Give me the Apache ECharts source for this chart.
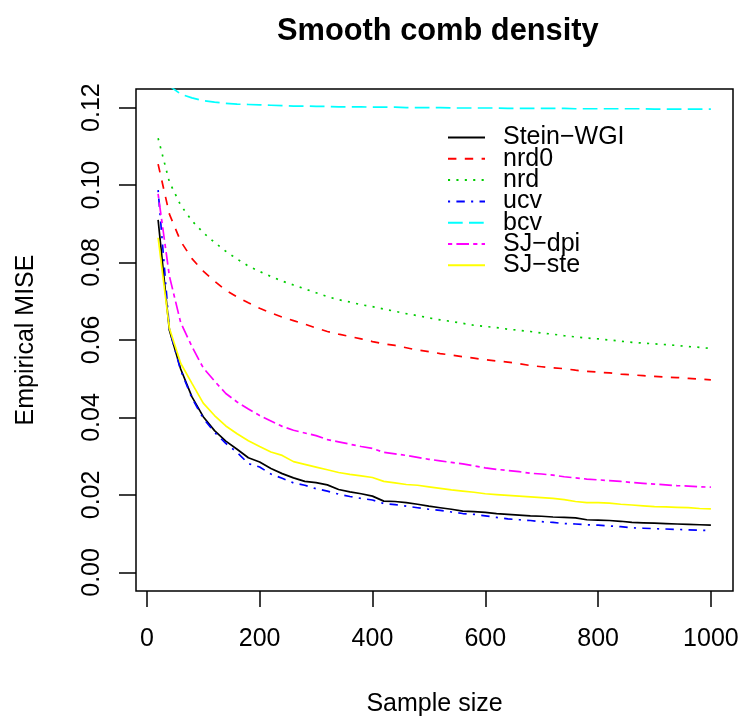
<!DOCTYPE html>
<html>
<head>
<meta charset="utf-8">
<script src="https://cdn.jsdelivr.net/npm/echarts@6/dist/echarts.min.js"></script>
<style>
html,body{margin:0;padding:0;background:#fff;}
#chart{width:742px;height:722px;}
</style>
</head>
<body>
<div id="chart"></div>
<script>
// ---- data ----
var sampleSizes = [20,40,60,80,100,120,140,160,180,200,220,240,260,280,300,320,340,360,380,400,
  420,440,460,480,500,520,540,560,580,600,620,640,660,680,700,720,740,760,780,800,
  820,840,860,880,900,920,940,960,980,1000];

var steinWGI = [0.0910,0.0625,0.0525,0.0453,0.0402,0.0366,0.0339,0.0318,0.0296,0.0285,
  0.0268,0.0255,0.0244,0.0235,0.0232,0.0226,0.0214,0.0208,0.0203,0.0197,
  0.0184,0.0183,0.0180,0.0176,0.0171,0.0167,0.0163,0.0158,0.0157,0.0155,
  0.0152,0.0150,0.0148,0.0146,0.0145,0.0143,0.0142,0.0141,0.0136,0.0135,
  0.0134,0.0132,0.0129,0.0128,0.0127,0.0126,0.0125,0.0124,0.0123,0.0122];

var nrd0 = [0.1054,0.0925,0.0855,0.0810,0.0778,0.0752,0.0728,0.0711,0.0696,0.0682,
  0.0670,0.0659,0.0650,0.0641,0.0631,0.0622,0.0615,0.0609,0.0603,0.0596,
  0.0590,0.0586,0.0580,0.0574,0.0570,0.0565,0.0561,0.0557,0.0553,0.0549,
  0.0546,0.0543,0.0539,0.0534,0.0531,0.0528,0.0526,0.0522,0.0519,0.0517,
  0.0515,0.0512,0.0510,0.0508,0.0506,0.0504,0.0503,0.0501,0.0499,0.0497];

var nrd = [0.1121,0.1008,0.0948,0.0908,0.0877,0.0852,0.0829,0.0809,0.0791,0.0777,
  0.0764,0.0752,0.0742,0.0732,0.0722,0.0712,0.0704,0.0698,0.0691,0.0686,
  0.0680,0.0674,0.0668,0.0663,0.0657,0.0652,0.0648,0.0643,0.0638,0.0635,
  0.0632,0.0628,0.0625,0.0622,0.0618,0.0615,0.0611,0.0608,0.0605,0.0603,
  0.0600,0.0597,0.0594,0.0592,0.0590,0.0588,0.0586,0.0583,0.0581,0.0578];

var ucv = [0.0987,0.0628,0.0522,0.0450,0.0398,0.0362,0.0333,0.0310,0.0281,0.0272,
  0.0254,0.0243,0.0231,0.0225,0.0216,0.0210,0.0202,0.0196,0.0191,0.0187,
  0.0178,0.0175,0.0171,0.0167,0.0163,0.0160,0.0156,0.0152,0.0150,0.0146,
  0.0142,0.0138,0.0136,0.0134,0.0131,0.0129,0.0126,0.0125,0.0123,0.0122,
  0.0120,0.0118,0.0115,0.0114,0.0113,0.0112,0.0111,0.0110,0.0109,0.0108];

var bcv = [0.1310,0.1256,0.1235,0.1225,0.1218,0.1214,0.1211,0.1209,0.1208,0.1207,
  0.1206,0.1205,0.1204,0.1204,0.1203,0.1203,0.1202,0.1202,0.1202,0.1201,
  0.1201,0.1201,0.1200,0.1200,0.1200,0.1200,0.1199,0.1199,0.1199,0.1199,
  0.1199,0.1198,0.1198,0.1198,0.1198,0.1198,0.1198,0.1197,0.1197,0.1197,
  0.1197,0.1197,0.1197,0.1197,0.1196,0.1196,0.1196,0.1196,0.1196,0.1196];

var sjDpi = [0.0977,0.0765,0.0645,0.0583,0.0528,0.0494,0.0462,0.0440,0.0422,0.0405,
  0.0391,0.0377,0.0367,0.0360,0.0353,0.0343,0.0337,0.0331,0.0325,0.0320,
  0.0310,0.0306,0.0302,0.0297,0.0292,0.0288,0.0284,0.0280,0.0275,0.0270,
  0.0266,0.0263,0.0260,0.0256,0.0254,0.0251,0.0247,0.0244,0.0241,0.0239,
  0.0237,0.0235,0.0232,0.0230,0.0228,0.0226,0.0224,0.0223,0.0221,0.0220];

var sjSte = [0.0864,0.0630,0.0540,0.0488,0.0437,0.0405,0.0378,0.0358,0.0340,0.0325,
  0.0311,0.0302,0.0286,0.0279,0.0272,0.0265,0.0258,0.0253,0.0249,0.0245,
  0.0235,0.0231,0.0227,0.0225,0.0221,0.0217,0.0213,0.0210,0.0207,0.0203,
  0.0201,0.0199,0.0197,0.0195,0.0193,0.0191,0.0188,0.0183,0.0180,0.0180,
  0.0179,0.0176,0.0174,0.0172,0.0170,0.0169,0.0168,0.0167,0.0165,0.0164];

var seriesNames = ['Stein\u2212WGI','nrd0','nrd','ucv','bcv','SJ\u2212dpi','SJ\u2212ste'];
var xTicks = [0,200,400,600,800,1000];
var yTicks = [0,0.02,0.04,0.06,0.08,0.10,0.12];
var titleText = 'Smooth comb density';
var xLabel = 'Sample size';
var yLabel = 'Empirical MISE';

// ---- styles ----
var FONT = '"Liberation Sans", Arial, Helvetica, sans-serif';
var U = 2.1;
var styles = [
  {color:'#000000', type:'solid'},
  {color:'#FF0000', type:[4*U,4*U]},
  {color:'#00CD00', type:[1*U,3*U]},
  {color:'#0000FF', type:[1*U,3*U,4*U,3*U]},
  {color:'#00FFFF', type:[7*U,3*U]},
  {color:'#FF00FF', type:[2*U,2*U,6*U,2*U]},
  {color:'#FFFF00', type:'solid'}
];
var allValues = [steinWGI, nrd0, nrd, ucv, bcv, sjDpi, sjSte];

function pairs(xs, ys){ return xs.map(function(x,i){return [x, ys[i]];}); }

var series = allValues.map(function(vals, i){
  return {
    name: seriesNames[i],
    type: 'line',
    data: pairs(sampleSizes, vals),
    symbol: 'none',
    clip: true,
    lineStyle: {color: styles[i].color, width: 1.7, type: styles[i].type, cap: 'butt'},
    itemStyle: {color: styles[i].color},
    emphasis: {disabled: true}
  };
});

var chart = echarts.init(document.getElementById('chart'), null, {renderer:'canvas'});
chart.setOption({
  animation: false,
  backgroundColor: '#ffffff',
  title: {
    text: titleText,
    left: 272,
    top: 11,
    textStyle: {fontFamily: FONT, fontSize: 30.8, fontWeight: 'bold', color: '#000'}
  },
  legend: {
    orient: 'vertical',
    left: 447,
    top: 125,
    padding: 0,
    itemWidth: 37,
    itemHeight: 14,
    itemGap: -3.7,
    data: seriesNames,
    itemStyle: {opacity: 0, borderWidth: 0},
    textStyle: {fontFamily: FONT, fontSize: 25, color: '#000', padding: [0,0,0,13]},
    selectedMode: false
  },
  grid: {
    left: 136, right: 9, top: 89, bottom: 130,
    show: true, borderColor: '#000', borderWidth: 1.5, backgroundColor: 'transparent'
  },
  xAxis: {
    type: 'value',
    min: -19.2, max: 1039.2,
    name: xLabel,
    nameLocation: 'middle',
    nameGap: 101,
    nameTextStyle: {fontFamily: FONT, fontSize: 25, color: '#000'},
    axisLine: {show: false, onZero: false},
    splitLine: {show: false},
    axisTick: {show: true, inside: false, length: 16, customValues: xTicks, lineStyle: {color: '#000', width: 1.5}},
    axisLabel: {customValues: xTicks, margin: 36, fontFamily: FONT, fontSize: 25, color: '#000',
      formatter: function(v){ return String(v); }}
  },
  yAxis: {
    type: 'value',
    min: -0.0048, max: 0.1248,
    name: yLabel,
    nameLocation: 'middle',
    nameGap: 97,
    nameTextStyle: {fontFamily: FONT, fontSize: 25, color: '#000'},
    axisLine: {show: false, onZero: false},
    splitLine: {show: false},
    axisTick: {show: true, inside: false, length: 17, customValues: yTicks, lineStyle: {color: '#000', width: 1.5}},
    axisLabel: {customValues: yTicks, rotate: 90, margin: 31, fontFamily: FONT, fontSize: 25, color: '#000',
      formatter: function(v){ return v.toFixed(2); }}
  },
  series: series
});
</script>
</body>
</html>
